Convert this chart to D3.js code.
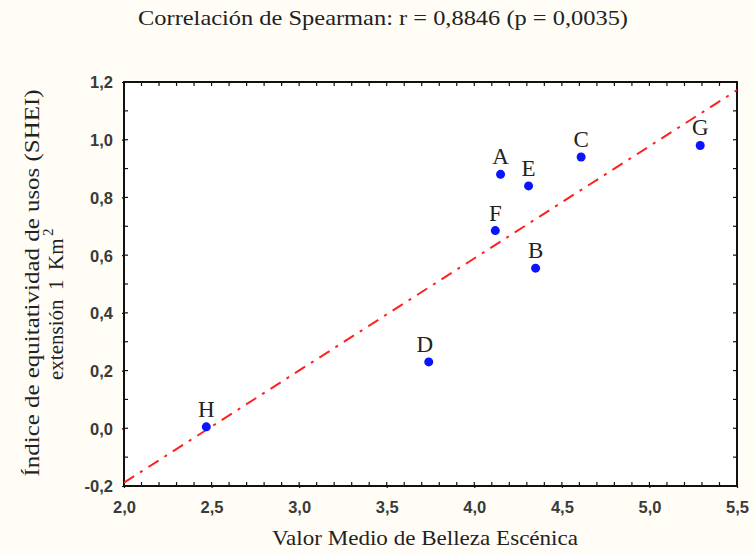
<!DOCTYPE html>
<html><head><meta charset="utf-8">
<script src="https://cdn.jsdelivr.net/npm/d3@7"></script>
<style>body{margin:0;background:#fffdf6;} svg{display:block}</style>
</head><body>
<script>
const labels = ["A","B","C","D","E","F","G","H"];
const xValues = [4.15, 4.35, 4.61, 3.74, 4.31, 4.12, 5.29, 2.47];
const yValues = [0.88, 0.555, 0.94, 0.23, 0.84, 0.685, 0.98, 0.005];
const xTicks = [2.0, 2.5, 3.0, 3.5, 4.0, 4.5, 5.0, 5.5];
const yTicks = [-0.2, 0.0, 0.2, 0.4, 0.6, 0.8, 1.0, 1.2];
const title = "Correlación de Spearman: r = 0,8846 (p = 0,0035)";
const xTitle = "Valor Medio de Belleza Escénica";
const yTitle1 = "Índice de equitatividad de usos (SHEI)";
const yTitle2Parts = ["extensión", "1", "Km", "2"];

const W = 755, H = 554;
const L = 124, R = 737, T = 82, B = 486;
const serif = "'Liberation Serif', 'Times New Roman', serif";
const sans = "'Liberation Sans', Arial, sans-serif";
const svg = d3.select("body").append("svg").attr("width", W).attr("height", H);
svg.append("rect").attr("width", W).attr("height", H).attr("fill", "#fffdf6");

const x = d3.scaleLinear().domain([2.0, 5.5]).range([L, R]);
const y = d3.scaleLinear().domain([-0.2, 1.2]).range([B, T]);
const fmt = d => d3.format(".1f")(d).replace(".", ",").replace("−", "-");

svg.append("rect").attr("x", L).attr("y", T).attr("width", R - L).attr("height", B - T).attr("fill", "#ffffff");

// minor ticks
const xMinor = d3.range(20, 56).map(v => v / 10);
const yMinor = d3.range(-2, 13).map(v => v / 10);
const tickG = svg.append("g").attr("stroke", "#111").attr("stroke-width", 1.2);
xMinor.forEach(v => {
  tickG.append("line").attr("x1", x(v)).attr("x2", x(v)).attr("y1", B).attr("y2", B - 4);
  tickG.append("line").attr("x1", x(v)).attr("x2", x(v)).attr("y1", T).attr("y2", T + 4);
});
yMinor.forEach(v => {
  tickG.append("line").attr("y1", y(v)).attr("y2", y(v)).attr("x1", L).attr("x2", L + 4);
  tickG.append("line").attr("y1", y(v)).attr("y2", y(v)).attr("x1", R).attr("x2", R - 4);
});

// axes (labels)
const xAxis = svg.append("g").attr("transform", `translate(0,${B})`)
  .call(d3.axisBottom(x).tickValues(xTicks).tickFormat(fmt).tickSize(2).tickPadding(13));
const yAxis = svg.append("g").attr("transform", `translate(${L},0)`)
  .call(d3.axisLeft(y).tickValues(yTicks).tickFormat(fmt).tickSize(2).tickPadding(9));
[xAxis, yAxis].forEach(g => {
  g.select(".domain").remove();
  g.selectAll(".tick line").attr("stroke", "#111").attr("stroke-width", 1.2);
  g.selectAll("text").attr("font-family", sans)
    .attr("font-size", 16.5).attr("font-weight", "bold").attr("fill", "#3a3a36");
});
yAxis.selectAll("text").attr("dy", "0.36em");

// frame
svg.append("rect").attr("x", L).attr("y", T).attr("width", R - L).attr("height", B - T)
  .attr("fill", "none").attr("stroke", "#111").attr("stroke-width", 2);

// regression line (least squares from data)
const mx = d3.mean(xValues), my = d3.mean(yValues);
let sxy = 0, sxx = 0;
xValues.forEach((v, i) => { sxy += (v - mx) * (yValues[i] - my); sxx += (v - mx) ** 2; });
const slope = sxy / sxx, icpt = my - slope * mx;
svg.append("clipPath").attr("id", "clip").append("rect")
  .attr("x", L).attr("y", T).attr("width", R - L).attr("height", B - T);
const xs = [2.0, 5.5];
svg.append("line").attr("clip-path", "url(#clip)")
  .attr("x1", x(xs[0])).attr("y1", y(icpt + slope * xs[0]))
  .attr("x2", x(xs[1])).attr("y2", y(icpt + slope * xs[1]))
  .attr("stroke", "#ff2020").attr("stroke-width", 2).attr("stroke-dasharray", "12,7,3,7");

// points
const pts = labels.map((l, i) => ({ l, x: xValues[i], y: yValues[i] }));
svg.append("g").selectAll("circle").data(pts).join("circle")
  .attr("cx", d => x(d.x)).attr("cy", d => y(d.y)).attr("r", 4.5).attr("fill", "#0a14ff");
svg.append("g").selectAll("text").data(pts).join("text")
  .attr("x", d => x(d.x) - (d.l === "D" ? 4 : 0)).attr("y", d => y(d.y) - 10)
  .attr("text-anchor", "middle").attr("font-family", serif)
  .attr("font-size", 23).attr("fill", "#222").text(d => d.l);

// titles
svg.append("text").attr("x", 383).attr("y", 25).attr("text-anchor", "middle")
  .attr("font-family", serif).attr("font-size", 21.5).attr("fill", "#222")
  .attr("textLength", 490).attr("lengthAdjust", "spacingAndGlyphs").text(title);
svg.append("text").attr("x", 425).attr("y", 545).attr("text-anchor", "middle")
  .attr("font-family", serif).attr("font-size", 21).attr("fill", "#222")
  .attr("textLength", 306).attr("lengthAdjust", "spacingAndGlyphs").text(xTitle);
svg.append("text").attr("transform", "translate(39,283) rotate(-90)").attr("text-anchor", "middle")
  .attr("font-family", serif).attr("font-size", 21).attr("fill", "#222")
  .attr("textLength", 387).attr("lengthAdjust", "spacingAndGlyphs").text(yTitle1);
// second line: rotated, local x = -screenY
const t2 = svg.append("text").attr("transform", "translate(63,0) rotate(-90)")
  .attr("font-family", serif).attr("font-size", 21).attr("fill", "#222");
t2.append("tspan").attr("x", -380).attr("y", 0).text(yTitle2Parts[0]);
t2.append("tspan").attr("x", -290).attr("y", 0).text(yTitle2Parts[1]);
t2.append("tspan").attr("x", -270).attr("y", 0).text(yTitle2Parts[2]);
t2.append("tspan").attr("x", -236).attr("y", -10).attr("font-size", 15).text(yTitle2Parts[3]);
</script>
</body></html>
